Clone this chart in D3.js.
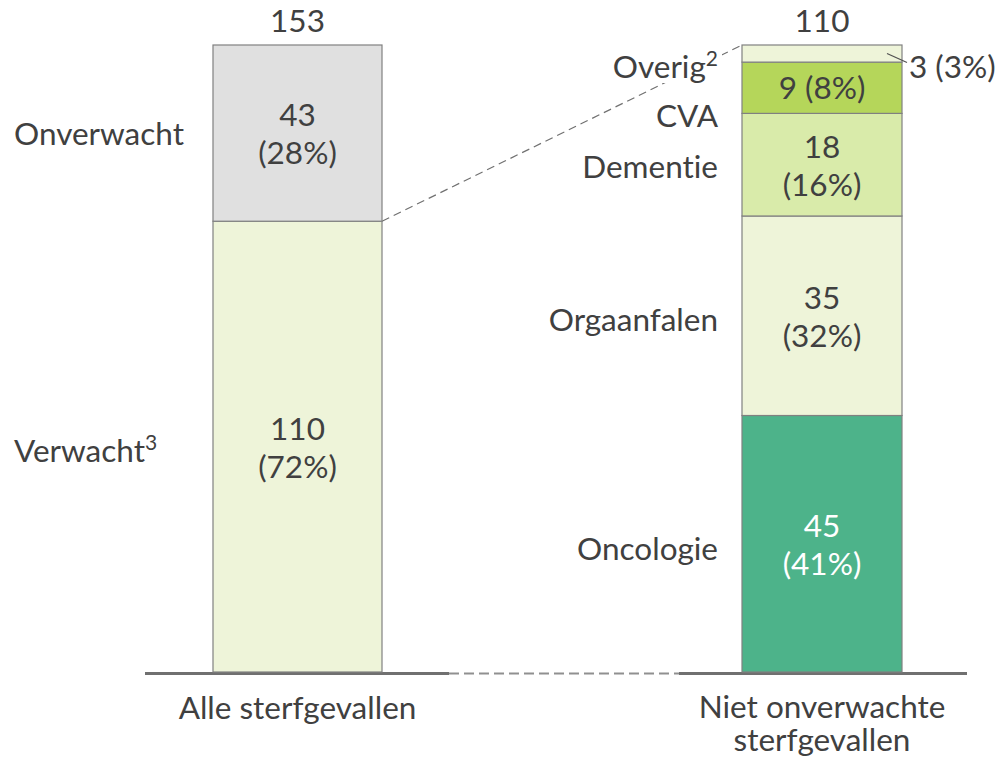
<!DOCTYPE html>
<html>
<head>
<meta charset="utf-8">
<script src="https://cdn.jsdelivr.net/npm/d3@7"></script>
<style>
  body { margin: 0; background: #fff; }
  svg text { font-family: Lato, "Open Sans", sans-serif; fill: #404040; font-variant-ligatures: none; }
</style>
</head>
<body>
<div id="chart"></div>
<script>
// left bar: all deaths
var allCats = ["Verwacht", "Onverwacht"];
var allValues = [110, 43];
var allPct = ["72%", "28%"];
var allColors = ["#eef4d9", "#e0e0e0"];

// right bar: non-unexpected deaths
var causeCats = ["Oncologie", "Orgaanfalen", "Dementie", "CVA", "Overig"];
var causeValues = [45, 35, 18, 9, 3];
var causePct = ["41%", "32%", "16%", "8%", "3%"];
var causeColors = ["#4db38a", "#eef4d9", "#d9ebaa", "#b5d65a", "#eef4d9"];

var groups = ["Alle sterfgevallen", "Niet onverwachte sterfgevallen"];

var width = 1004, height = 759;
var barTop = 45, base = 672;
var fs = 31.5;

var svg = d3.select("#chart").append("svg")
    .attr("width", width)
    .attr("height", height);

var x = d3.scaleOrdinal().domain(groups).range([213, 742]);
var barW = d3.scaleOrdinal().domain(groups).range([169, 160]);

var yAll = d3.scaleLinear().domain([0, d3.sum(allValues)]).range([base, barTop]);
var yCause = d3.scaleLinear().domain([0, d3.sum(causeValues)]).range([base, barTop]);

function stackData(values) {
  var acc = 0;
  return values.map(function(v, i) {
    var d = { i: i, v: v, y0: acc, y1: acc + v };
    acc += v;
    return d;
  });
}

var allStack = stackData(allValues);
var causeStack = stackData(causeValues);

// connector lines (drawn first so labels can cover them)
svg.append("line")
    .attr("x1", x(groups[0]) + barW(groups[0])).attr("y1", yAll(allStack[0].y1))
    .attr("x2", x(groups[1])).attr("y2", yCause(causeStack[4].y1))
    .attr("stroke", "#707070").attr("stroke-width", 1.2)
    .attr("stroke-dasharray", "8,5");

svg.append("line")
    .attr("x1", 449).attr("y1", base + 1.5)
    .attr("x2", 679).attr("y2", base + 1.5)
    .attr("stroke", "#909090").attr("stroke-width", 2)
    .attr("stroke-dasharray", "10,5");

// baseline pieces
[[145, 449], [679, 967]].forEach(function(s) {
  svg.append("line")
      .attr("x1", s[0]).attr("x2", s[1])
      .attr("y1", base + 1.5).attr("y2", base + 1.5)
      .attr("stroke", "#707070").attr("stroke-width", 3);
});

function drawBar(stack, y, g, colors) {
  svg.append("g").selectAll("rect")
    .data(stack)
    .enter()
    .append("rect")
      .attr("x", x(g))
      .attr("width", barW(g))
      .attr("y", function(d) { return y(d.y1); })
      .attr("height", function(d) { return y(d.y0) - y(d.y1); })
      .attr("fill", function(d) { return colors[d.i]; })
      .attr("stroke", "#808080")
      .attr("stroke-width", 1.2);
}

drawBar(allStack, yAll, groups[0], allColors);
drawBar(causeStack, yCause, groups[1], causeColors);

// totals on top
svg.append("text").attr("x", x(groups[0]) + barW(groups[0]) / 2).attr("y", 32)
    .attr("text-anchor", "middle").attr("font-size", fs).text(d3.sum(allValues));
svg.append("text").attr("x", x(groups[1]) + barW(groups[1]) / 2).attr("y", 32)
    .attr("text-anchor", "middle").attr("font-size", fs).text(d3.sum(causeValues));

// value labels inside bars (two lines)
function line(cx, yb, txt, color, anchor) {
  return svg.append("text").attr("x", cx).attr("y", yb)
      .attr("text-anchor", anchor || "middle").attr("font-size", fs)
      .style("fill", color || "#404040").text(txt);
}

function twoLine(cx, cy, a, b, color) {
  line(cx, cy - 7, a, color);
  line(cx, cy + 31, b, color);
}

allStack.forEach(function(d) {
  var cx = x(groups[0]) + barW(groups[0]) / 2;
  var cy = (yAll(d.y0) + yAll(d.y1)) / 2;
  twoLine(cx, cy, d.v, "(" + allPct[d.i] + ")", "#404040");
});

causeStack.forEach(function(d) {
  var cx = x(groups[1]) + barW(groups[1]) / 2;
  var cy = (yCause(d.y0) + yCause(d.y1)) / 2;
  if (d.i < 3) {
    twoLine(cx, cy, d.v, "(" + causePct[d.i] + ")", d.i === 0 ? "#ffffff" : "#404040");
  } else if (d.i === 3) {
    line(cx, cy + 11, d.v + " (" + causePct[d.i] + ")");
  } else {
    // small segment: label outside with leader
    var rx = x(groups[1]) + barW(groups[1]);
    svg.append("line")
        .attr("x1", rx - 15).attr("y1", cy)
        .attr("x2", rx + 5).attr("y2", cy + 9)
        .attr("stroke", "#505050").attr("stroke-width", 1.2);
    line(rx + 7, cy + 24, d.v + " (" + causePct[d.i] + ")", null, "start");
  }
});

// category labels left of bars (white backing to cover the connector)
function sideLabel(xr, yb, name, sup, anchor) {
  var t = svg.append("text").attr("x", xr).attr("y", yb)
      .attr("text-anchor", anchor).attr("font-size", fs);
  t.append("tspan").text(name);
  if (sup) t.append("tspan").attr("font-size", 21).attr("dy", -12).text(sup);
  var bb = t.node().getBBox();
  svg.insert("rect", "text")
      .attr("x", bb.x - 2).attr("y", bb.y + 4)
      .attr("width", bb.width + 6).attr("height", bb.height - 6)
      .attr("fill", "#fff");
}

sideLabel(14, 145, allCats[1], null, "start");
sideLabel(14, 462, allCats[0], "3", "start");

var causeSup = [null, null, null, null, "2"];
var causeLabelY = [560, 331, 178, 127, 78];
causeCats.forEach(function(c, i) {
  sideLabel(718, causeLabelY[i], c, causeSup[i], "end");
});

// group labels under baseline
line(x(groups[0]) + barW(groups[0]) / 2, 719, groups[0]);
line(x(groups[1]) + barW(groups[1]) / 2, 718, "Niet onverwachte");
line(x(groups[1]) + barW(groups[1]) / 2, 751, "sterfgevallen");
</script>
</body>
</html>
